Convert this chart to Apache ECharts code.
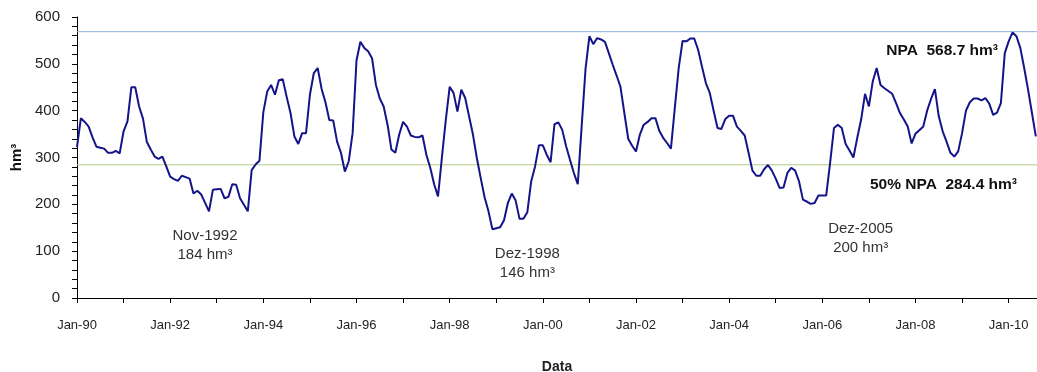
<!DOCTYPE html>
<html><head><meta charset="utf-8">
<script src="https://cdn.jsdelivr.net/npm/echarts@6/dist/echarts.min.js"></script>
<style>html,body{margin:0;padding:0;background:#fff}#c{width:1037px;height:372px}</style>
</head><body><div id="c"></div>
<script>
// Monthly reservoir volume (hm³), Jan-1990 .. Aug-2010
const startYear = 1990;
const volume = [
  322,384,376,366,343,323,321,319,310,310,314,309,
  356,377,450,450,409,383,333,317,302,297,302,281,
  259,254,250,261,258,255,223,229,221,203,185,231,
  232,233,213,216,243,242,213,199,185,273,285,293,
  397,441,455,434,465,467,430,395,345,329,352,352,
  434,480,491,447,418,380,379,334,310,270,292,352,
  507,547,534,527,512,455,426,409,370,317,310,349,
  376,366,347,344,343,347,306,278,243,217,300,380,
  451,438,398,445,427,388,349,299,256,215,185,147,
  149,151,166,203,223,208,169,169,183,249,281,326,
  326,306,290,371,375,359,324,295,267,243,366,489,
  559,542,555,552,547,523,498,475,451,395,340,325,
  313,349,370,376,384,384,357,342,331,319,406,491,
  549,548,554,554,530,494,459,438,400,363,361,382,
  389,389,366,357,347,310,272,261,261,275,284,272,
  255,235,236,267,278,272,249,210,206,201,203,219,
  219,219,288,363,370,363,329,315,300,342,381,436,
  409,463,491,455,448,442,436,416,395,381,366,330,
  351,358,366,400,425,446,388,356,334,310,302,313,
  352,400,418,426,426,422,427,415,391,396,416,523,
  548,567,559,534,491,445,395,345
];
const tickLabels = ['Jan-90','Jan-92','Jan-94','Jan-96','Jan-98','Jan-00','Jan-02','Jan-04','Jan-06','Jan-08','Jan-10'];
const npa = 568.7;
const npaHalf = 284.4;
const npaText = 'NPA  568.7 hm³';
const npaHalfText = '50% NPA  284.4 hm³';
const minIdx = [34, 107, 189];
const minText = ['Nov-1992\n184 hm³', 'Dez-1998\n146 hm³', 'Dez-2005\n200 hm³'];
const minOffset = [[-4, 34], [35, 34], [50, 34]];

const FONT = 'Liberation Sans, Arial, sans-serif';
const X_MIN = 0, X_MAX = 247.3;
const data = volume.map((v, i) => [i, v]);

function refSeries(value, color, text, dist) {
  return {
    type: 'line', symbol: 'none', z: 1, silent: true,
    data: [[X_MIN, value], [X_MAX, value]],
    lineStyle: { color: color, width: 1, type: 'solid' },
    markLine: {
      silent: true, symbol: ['none', 'none'], animation: false,
      lineStyle: { color: 'rgba(0,0,0,0)', width: 1, type: 'solid' },
      label: { show: true, formatter: text, position: 'insideEndBottom', distance: dist,
        fontWeight: 'bold', fontSize: 15.5, color: '#111', fontFamily: FONT },
      data: [{ yAxis: value }]
    }
  };
}

const chart = echarts.init(document.getElementById('c'));
chart.setOption({
  animation: false,
  textStyle: { fontFamily: FONT },
  grid: { left: 77, right: 0, top: 17, bottom: 74, outerBoundsMode: 'none', containLabel: false },
  xAxis: {
    type: 'value', min: X_MIN, max: X_MAX, interval: 12,
    axisLine: { show: true, onZero: false, lineStyle: { color: '#000', width: 1 } },
    axisTick: { show: true, length: 5, lineStyle: { color: '#000' } },
    axisLabel: { margin: 21, fontSize: 13, color: '#222', fontFamily: FONT,
      showMaxLabel: false,
      formatter: v => (v % 24 === 0 ? tickLabels[v / 24] : '') },
    splitLine: { show: false },
    name: 'Data', nameLocation: 'middle', nameGap: 62,
    nameTextStyle: { fontWeight: 'bold', fontSize: 14, color: '#222', fontFamily: FONT }
  },
  yAxis: {
    type: 'value', min: 0, max: 600, interval: 100,
    axisLine: { show: true, lineStyle: { color: '#000', width: 1 } },
    axisTick: { show: true, length: 5, lineStyle: { color: '#000' } },
    minorTick: { show: true, splitNumber: 5, length: 5, lineStyle: { color: '#000' } },
    axisLabel: { margin: 17, fontSize: 15, color: '#222', fontFamily: FONT },
    splitLine: { show: false },
    name: 'hm³', nameLocation: 'middle', nameGap: 48, nameRotate: 90,
    nameTextStyle: { fontWeight: 'bold', fontSize: 15, color: '#111', fontFamily: FONT }
  },
  series: [
    refSeries(npa, '#8fb0dc', npaText, [39, 11]),
    refSeries(npaHalf, '#b0cc84', npaHalfText, [20, 12]),
    {
      type: 'line', data: data, symbol: 'none', smooth: false, z: 3,
      lineStyle: { color: '#14148a', width: 2 },
      markPoint: {
        silent: true, animation: false,
        symbol: 'circle', symbolSize: 1, itemStyle: { color: 'rgba(0,0,0,0)' },
        data: minIdx.map((m, k) => ({
          coord: [m, volume[m]],
          label: { show: true, position: 'inside', offset: minOffset[k], formatter: minText[k],
            fontSize: 15, lineHeight: 19, color: '#333', align: 'center', fontFamily: FONT }
        }))
      }
    }
  ]
});
</script></body></html>
